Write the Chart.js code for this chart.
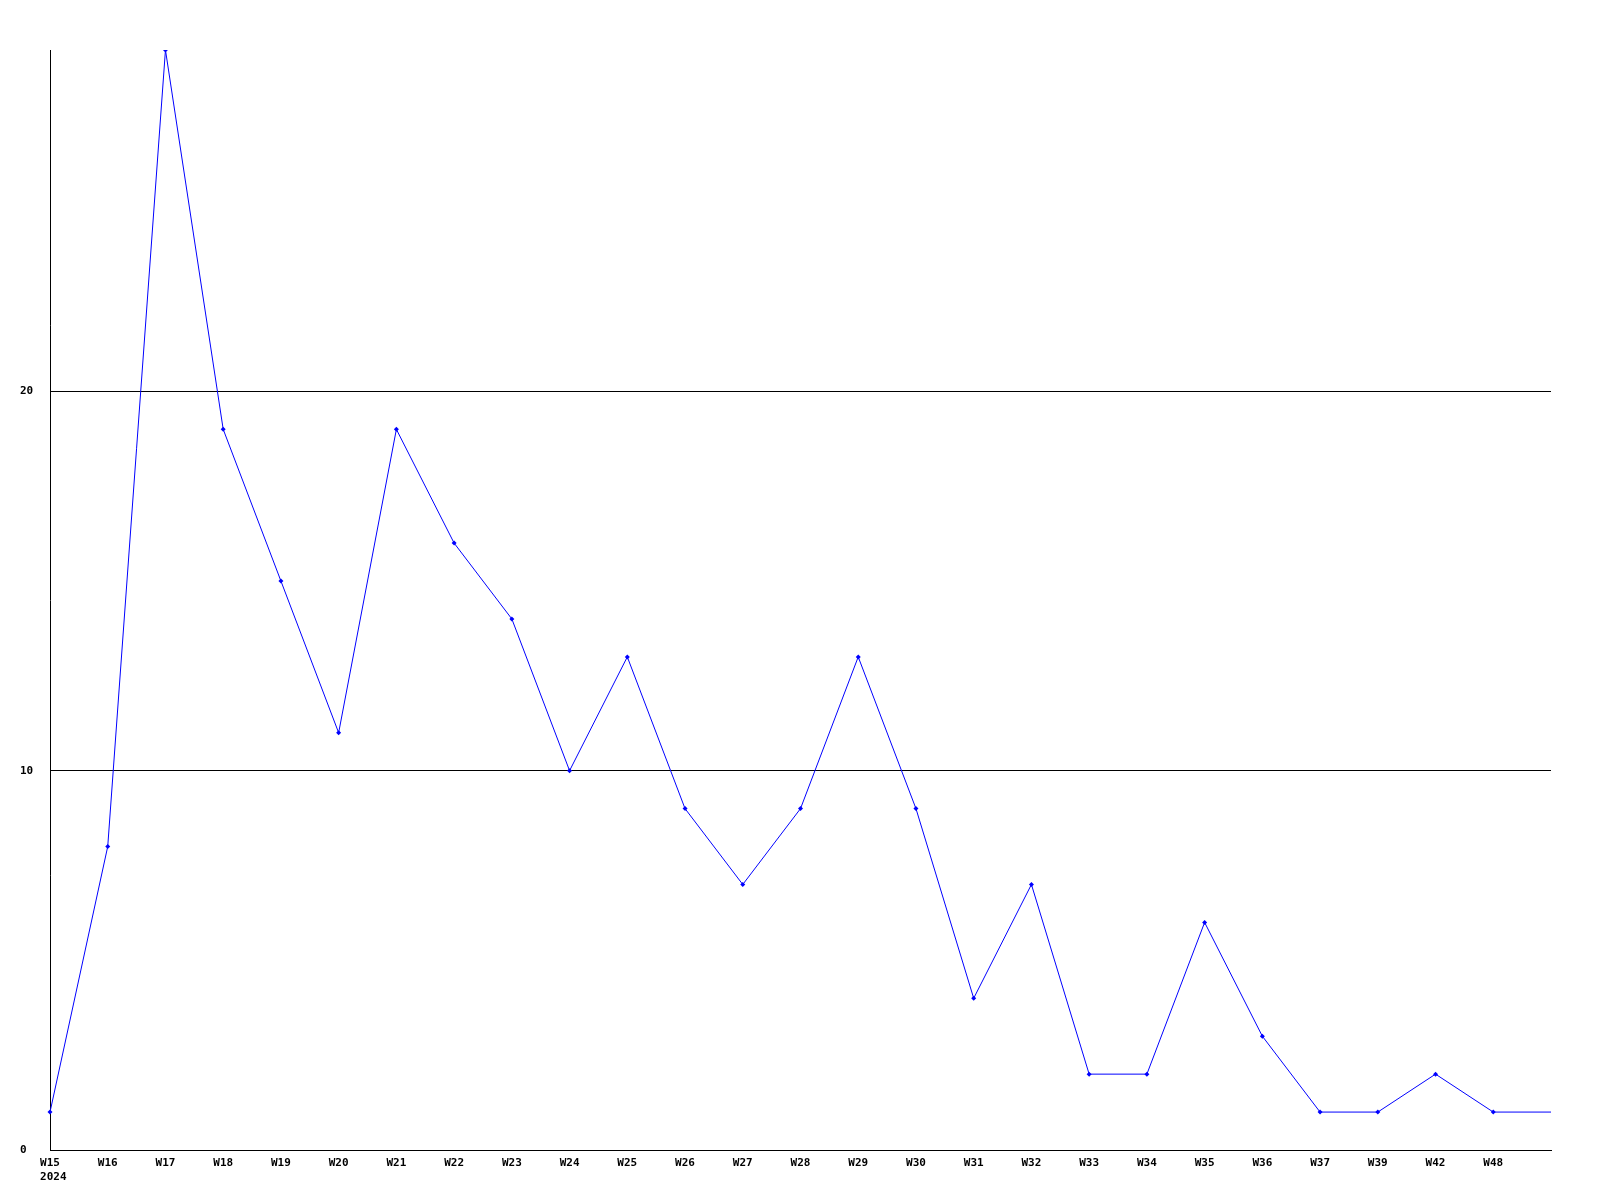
<!DOCTYPE html>
<html>
<head>
<meta charset="utf-8">
<script src="https://cdn.jsdelivr.net/npm/chart.js@4/dist/chart.umd.min.js"></script>
<style>
html,body{margin:0;padding:0;background:#fff;}
#wrap{width:1600px;height:1200px;}
</style>
</head>
<body>
<div id="wrap"><canvas id="c" width="1600" height="1200"></canvas></div>
<script>
const categories = ["W15","W16","W17","W18","W19","W20","W21","W22","W23","W24","W25","W26","W27","W28","W29","W30","W31","W32","W33","W34","W35","W36","W37","W39","W42","W48",""];
const yearLabel = "2024";
const counts = [1,8,29,19,15,11,19,16,14,10,13,9,7,9,13,9,4,7,2,2,6,3,1,1,2,1,1];
const yTicks = [0,10,20];
const yMax = 29;

const font = {family:"'DejaVu Sans Mono', monospace", size:11, weight:'bold'};

const yearPlugin = {
  id:'yearLabel',
  afterDraw(chart){
    const x = chart.scales.x;
    const ctx = chart.ctx;
    ctx.save();
    ctx.font = 'bold 11px "DejaVu Sans Mono", monospace';
    ctx.fillStyle = '#000';
    ctx.textBaseline = 'middle';
    const first = categories[0];
    const w = ctx.measureText(first).width;
    const px = x.getPixelForValue(0);
    ctx.textAlign = 'left';
    ctx.fillText(yearLabel, px - w/2, 1177);
    ctx.restore();
  }
};

new Chart(document.getElementById('c'), {
  type:'line',
  data:{
    labels:categories,
    datasets:[{
      data:counts,
      borderColor:'#0000ff',
      backgroundColor:'#0000ff',
      borderWidth:1,
      tension:0,
      pointStyle:'rectRot',
      pointRadius:counts.map((v,i)=> i===counts.length-1 ? 0 : 2.5),
      pointBorderWidth:0,
      fill:false
    }]
  },
  plugins:[yearPlugin],
  options:{
    responsive:false,
    animation:false,
    events:[],
    layout:{padding:{top:50,right:49,left:20,bottom:0}},
    plugins:{legend:{display:false},tooltip:{enabled:false}},
    scales:{
      x:{
        type:'category',
        offset:false,
        grid:{display:false, drawTicks:false},
        border:{display:true,color:'#000',width:1},
        ticks:{color:'#000',font:font,padding:7,maxRotation:0,autoSkip:false},
        afterFit:s=>{s.height=50;}
      },
      y:{
        min:0,max:yMax,
        afterBuildTicks:s=>{s.ticks=yTicks.map(v=>({value:v}));},
        grid:{color:'#000',lineWidth:1,drawTicks:false},
        border:{display:true,color:'#000',width:1},
        ticks:{color:'#000',font:font,padding:17,crossAlign:'far'},
        afterFit:s=>{s.width=30;}
      }
    }
  }
});
</script>
</body>
</html>
